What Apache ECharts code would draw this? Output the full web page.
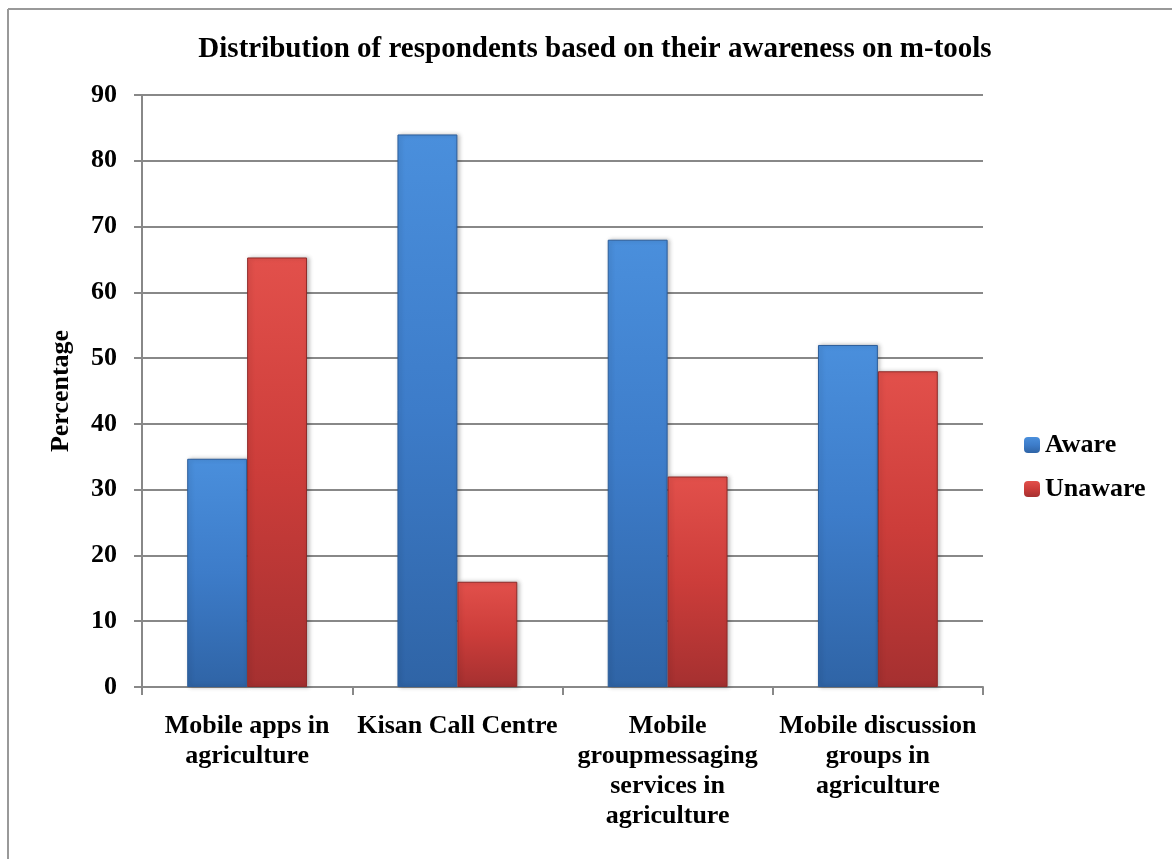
<!DOCTYPE html>
<html>
<head>
<meta charset="utf-8">
<script src="https://cdn.jsdelivr.net/npm/echarts@6/dist/echarts.min.js"></script>
<style>
  html, body { margin: 0; padding: 0; background: #fff; }
  #chart { width: 1172px; height: 859px; }
</style>
</head>
<body>
<div id="chart"></div>
<script>
// chart data
var categories = [
  "Mobile apps in\nagriculture",
  "Kisan Call Centre",
  "Mobile\ngroupmessaging\nservices in\nagriculture",
  "Mobile discussion\ngroups in\nagriculture"
];
var aware = [34.7, 84, 68, 52];
var unaware = [65.3, 16, 32, 48];
var yTicks = [0, 10, 20, 30, 40, 50, 60, 70, 80, 90];

var font = "'Liberation Serif', 'Times New Roman', serif";

function barColor(top, mid, bottom) {
  return {
    type: "linear", x: 0, y: 0, x2: 0, y2: 1,
    colorStops: [
      { offset: 0, color: top },
      { offset: 0.5, color: mid },
      { offset: 1, color: bottom }
    ]
  };
}

var chart = echarts.init(document.getElementById("chart"));
chart.setOption({
  animation: false,
  backgroundColor: "#fff",
  textStyle: { fontFamily: font },
  title: {
    text: "Distribution of respondents based on their awareness on m-tools",
    left: 590,
    textAlign: "center",
    top: 30,
    textStyle: { fontFamily: font, fontWeight: "bold", fontSize: 29, color: "#000" }
  },
  graphic: [
    { type: "line", shape: { x1: 8, y1: 9, x2: 1172, y2: 9 }, style: { stroke: "#999", lineWidth: 2 } },
    { type: "line", shape: { x1: 8, y1: 9, x2: 8, y2: 859 }, style: { stroke: "#999", lineWidth: 2 } }
  ],
  legend: {
    orient: "vertical",
    left: 1024,
    top: 432,
    padding: 0,
    itemWidth: 16,
    itemHeight: 16,
    itemGap: 18,
    itemStyle: { borderWidth: 0 },
    textStyle: { fontFamily: font, fontWeight: "bold", fontSize: 26, color: "#000" },
    data: ["Aware", "Unaware"]
  },
  grid: { left: 142, right: 189, top: 95, bottom: 172 },
  xAxis: {
    type: "category",
    data: categories,
    axisLine: { lineStyle: { color: "#888", width: 2 } },
    axisTick: { show: true, length: 8, lineStyle: { color: "#888", width: 2 } },
    axisLabel: {
      fontFamily: font, fontWeight: "bold", fontSize: 26, color: "#000",
      margin: 24, lineHeight: 30, interval: 0
    }
  },
  yAxis: {
    type: "value",
    min: yTicks[0],
    max: yTicks[yTicks.length - 1],
    interval: 10,
    name: "Percentage",
    nameLocation: "middle",
    nameGap: 68,
    nameTextStyle: { fontFamily: font, fontWeight: "bold", fontSize: 26, color: "#000" },
    axisLine: { show: true, lineStyle: { color: "#888", width: 2 } },
    axisTick: { show: true, length: 8, lineStyle: { color: "#888", width: 2 } },
    axisLabel: { fontFamily: font, fontWeight: "bold", fontSize: 26, color: "#000", margin: 25 },
    splitLine: { lineStyle: { color: "#888", width: 2 } }
  },
  series: [
    {
      name: "Aware",
      type: "bar",
      data: aware,
      barGap: "0%",
      barCategoryGap: "43%",
      itemStyle: {
        color: barColor("#4a8fdc", "#3d7cc9", "#2f64a6"),
        borderColor: "#2b5c9a",
        borderWidth: 1,
        shadowColor: "rgba(0,0,0,0.25)",
        shadowBlur: 4,
        shadowOffsetX: 2
      }
    },
    {
      name: "Unaware",
      type: "bar",
      data: unaware,
      itemStyle: {
        color: barColor("#e2504b", "#cc3d3a", "#a53030"),
        borderColor: "#8e2a28",
        borderWidth: 1,
        shadowColor: "rgba(0,0,0,0.25)",
        shadowBlur: 4,
        shadowOffsetX: 2
      }
    }
  ]
});
</script>
</body>
</html>
